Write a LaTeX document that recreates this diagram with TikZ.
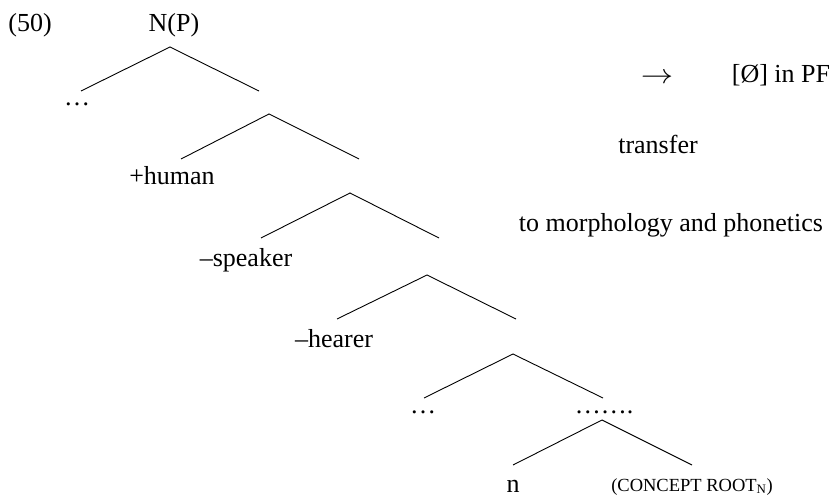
\documentclass[tikz,border=0pt]{standalone}
\usepackage{fontspec}
\usepackage{graphicx}
\setmainfont{Liberation Serif}
\begin{document}
\begin{tikzpicture}[x=1pt,y=-1pt,
  lab/.style={anchor=base,inner sep=0pt,font=\fontsize{26}{30}\selectfont},
  smalllab/.style={anchor=base,inner sep=0pt,font=\fontsize{18.5}{22}\selectfont},
  branch/.style={line width=0.9pt,black}]
\useasboundingbox (0,0) rectangle (833,497);
% labels
\node[lab] (ex) at (30,32) {(50)};
\node[lab] (np) at (174,32) {N(P)};
\node[lab] (dotsA) at (77,106) {\ldots};
\node[lab] (human) at (172,185) {+human};
\node[lab] (speaker) at (246,266) {–speaker};
\node[lab] (hearer) at (334,347) {–hearer};
\node[lab] (dotsB) at (423,413) {\ldots};
\node[lab] (dotsC) at (604,413) {\ldots\ldots.};
\node[lab] (n) at (513,492) {n};
\node[smalllab] (root) at (692,491) {(CONCEPT ROOT$_{\mathrm{N}}$)};
\node[lab] (arrow) at (657,84) {\scalebox{1.3}[1.1]{$\rightarrow$}};
\node[lab] (pf) at (781,83) {[Ø] in PF};
\node[lab] (transfer) at (658,154) {transfer};
\node[lab] (morph) at (671,232) {to morphology and phonetics};
% apexes and leg ends
\coordinate (a1) at (170,47);  \coordinate (l1) at (81,91);   \coordinate (r1) at (259,91);
\coordinate (a2) at (269,114); \coordinate (l2) at (181,159); \coordinate (r2) at (359,159);
\coordinate (a3) at (350,193); \coordinate (l3) at (261,238); \coordinate (r3) at (439,238);
\coordinate (a4) at (427,275); \coordinate (l4) at (337,319); \coordinate (r4) at (516,319);
\coordinate (a5) at (513,354); \coordinate (l5) at (424,398); \coordinate (r5) at (603,398);
\coordinate (a6) at (602,420); \coordinate (l6) at (513,465); \coordinate (r6) at (692,465);
\foreach \i in {1,...,6}{
  \draw[branch] (l\i) -- (a\i) -- (r\i);
}
\end{tikzpicture}
\end{document}
